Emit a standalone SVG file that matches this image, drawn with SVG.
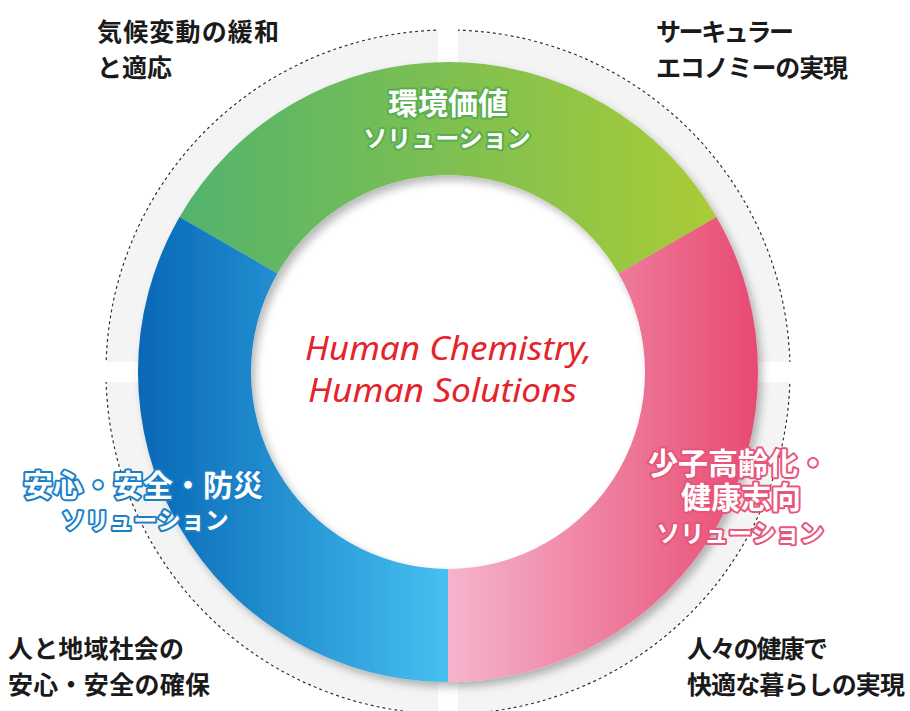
<svg xmlns="http://www.w3.org/2000/svg" width="910" height="711" viewBox="0 0 910 711">
  <defs>
    <linearGradient id="gGreen" gradientUnits="userSpaceOnUse" x1="179" y1="0" x2="717" y2="0">
      <stop offset="0" stop-color="#52b36d"/>
      <stop offset="1" stop-color="#aacc36"/>
    </linearGradient>
    <linearGradient id="gBlue" gradientUnits="userSpaceOnUse" x1="138" y1="0" x2="448" y2="0">
      <stop offset="0" stop-color="#0667b6"/>
      <stop offset="1" stop-color="#46c0f0"/>
    </linearGradient>
    <linearGradient id="gPink" gradientUnits="userSpaceOnUse" x1="448" y1="0" x2="758" y2="0">
      <stop offset="0" stop-color="#f5b4cd"/>
      <stop offset="1" stop-color="#e84a71"/>
    </linearGradient>
    <filter id="shadow" x="-10%" y="-10%" width="125%" height="125%">
      <feDropShadow dx="4" dy="5" stdDeviation="4" flood-color="#000" flood-opacity="0.28"/>
    </filter>
    <style>
      .corner { font-family: "Noto Sans CJK JP", "Liberation Sans", sans-serif; font-size: 25px; font-weight: 700; fill: #1a1a1a; }
      .lbl { font-family: "Noto Sans CJK JP", "Liberation Sans", sans-serif; font-weight: 700; fill: #ffffff; paint-order: stroke; stroke-width: 4; stroke-linejoin: round; text-anchor: middle; }
      .big { font-size: 30px; }
      .sub { font-size: 24px; }
      .green { stroke: #5aae4e; }
      .blue { stroke: #1b7fc7; }
      .pink { stroke: #e8547a; }
      .center { font-family: "Noto Sans", "Open Sans", sans-serif; font-style: italic; font-size: 33px; fill: #e5232a; }
    </style>
  </defs>
  <rect width="910" height="711" fill="#ffffff"/>

  <g id="background">
    <path d="M448 31 A341 341 0 1 1 447.99 31 Z M448 67 A305 305 0 1 0 448.01 67 Z" fill="#f4f4f4" fill-rule="evenodd"/>
    <circle cx="448" cy="372" r="342" fill="none" stroke="#333333" stroke-width="1.2" stroke-dasharray="3 3"/>
    <rect x="438" y="20" width="20" height="120" fill="#ffffff"/>
    <rect x="438" y="600" width="20" height="120" fill="#ffffff"/>
    <rect x="95" y="362" width="120" height="20" fill="#ffffff"/>
    <rect x="685" y="362" width="120" height="20" fill="#ffffff"/>
  </g>

  <g id="ring" filter="url(#shadow)">
    <path id="seg-green" d="M179.53 217 A310 310 0 0 1 716.47 217 L618.61 273.5 A197 197 0 0 0 277.39 273.5 Z" fill="url(#gGreen)"/>
    <path id="seg-blue" d="M448 682 A310 310 0 0 1 179.53 217 L277.39 273.5 A197 197 0 0 0 448 569 Z" fill="url(#gBlue)"/>
    <path id="seg-pink" d="M716.47 217 A310 310 0 0 1 448 682 L448 569 A197 197 0 0 0 618.61 273.5 Z" fill="url(#gPink)"/>
  </g>

  <g id="node-env">
    <text class="lbl big green" x="448" y="114">環境価値</text>
    <text class="lbl sub green" x="447" y="147">ソリューション</text>
  </g>
  <g id="node-safety">
    <text class="lbl big blue" x="143" y="496">安心・安全・防災</text>
    <text class="lbl sub blue" x="145" y="529">ソリューション</text>
  </g>
  <g id="node-health">
    <text class="lbl big pink" x="738" y="474">少子高齢化・</text>
    <text class="lbl big pink" x="741" y="508">健康志向</text>
    <text class="lbl sub pink" x="740" y="542">ソリューション</text>
  </g>

  <g id="node-center">
    <text class="center" x="305" y="360" textLength="287" lengthAdjust="spacingAndGlyphs">Human Chemistry,</text>
    <text class="center" x="308" y="402" textLength="269" lengthAdjust="spacingAndGlyphs">Human Solutions</text>
  </g>

  <g id="label-tl">
    <text class="corner" x="97" y="41" textLength="182" lengthAdjust="spacing">気候変動の緩和</text>
    <text class="corner" x="97" y="77">と適応</text>
  </g>
  <g id="label-tr">
    <text class="corner" x="656" y="41" textLength="138" lengthAdjust="spacing">サーキュラー</text>
    <text class="corner" x="656" y="77" textLength="192" lengthAdjust="spacing">エコノミーの実現</text>
  </g>
  <g id="label-bl">
    <text class="corner" x="8" y="658" textLength="176" lengthAdjust="spacing">人と地域社会の</text>
    <text class="corner" x="8" y="694" textLength="202" lengthAdjust="spacing">安心・安全の確保</text>
  </g>
  <g id="label-br">
    <text class="corner" x="687" y="658" textLength="141" lengthAdjust="spacing">人々の健康で</text>
    <text class="corner" x="687" y="694" textLength="218" lengthAdjust="spacing">快適な暮らしの実現</text>
  </g>
</svg>
